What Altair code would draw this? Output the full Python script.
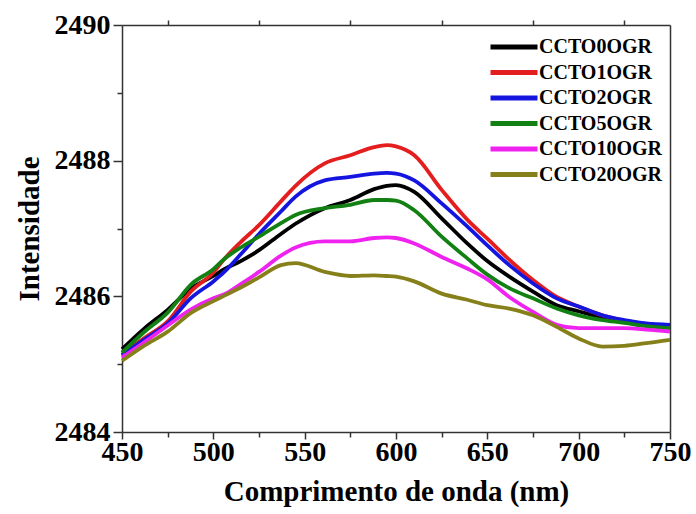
import altair as alt
import pandas as pd

# ---- data ----
wavelength = [450, 462, 475, 488, 500, 506, 515, 525, 537, 545, 561, 575, 588, 595,
              600, 610, 625, 639, 650, 662, 675, 688, 700, 713, 725, 737, 750]

ccto0 = [2485.22, 2485.52, 2485.80, 2486.12, 2486.30, 2486.40, 2486.52, 2486.68, 2486.92,
         2487.07, 2487.30, 2487.42, 2487.58, 2487.63, 2487.64, 2487.54, 2487.15, 2486.78,
         2486.52, 2486.29, 2486.07, 2485.87, 2485.78, 2485.69, 2485.64, 2485.59, 2485.56]
ccto1 = [2485.14, 2485.38, 2485.63, 2486.08, 2486.35, 2486.55, 2486.80, 2487.05, 2487.40,
         2487.63, 2487.96, 2488.08, 2488.20, 2488.23, 2488.21, 2488.08, 2487.57, 2487.13,
         2486.85, 2486.54, 2486.24, 2485.99, 2485.85, 2485.72, 2485.64, 2485.59, 2485.56]
ccto2 = [2485.13, 2485.36, 2485.60, 2485.98, 2486.22, 2486.36, 2486.62, 2486.92, 2487.25,
         2487.47, 2487.71, 2487.76, 2487.81, 2487.82, 2487.81, 2487.71, 2487.37, 2487.03,
         2486.75, 2486.46, 2486.19, 2485.97, 2485.85, 2485.72, 2485.65, 2485.60, 2485.58]
ccto5 = [2485.17, 2485.47, 2485.76, 2486.18, 2486.40, 2486.55, 2486.72, 2486.88, 2487.08,
         2487.20, 2487.30, 2487.35, 2487.42, 2487.42, 2487.41, 2487.27, 2486.88, 2486.56,
         2486.32, 2486.12, 2485.97, 2485.82, 2485.72, 2485.65, 2485.61, 2485.56, 2485.53]
ccto10 = [2485.10, 2485.32, 2485.57, 2485.81, 2485.97, 2486.03, 2486.18, 2486.36, 2486.60,
          2486.72, 2486.81, 2486.81, 2486.86, 2486.87, 2486.86, 2486.78, 2486.58, 2486.41,
          2486.25, 2485.99, 2485.77, 2485.58, 2485.53, 2485.53, 2485.53, 2485.51, 2485.48]
ccto20 = [2485.05, 2485.27, 2485.48, 2485.76, 2485.93, 2486.01, 2486.13, 2486.28, 2486.46,
          2486.49, 2486.36, 2486.30, 2486.31, 2486.30, 2486.29, 2486.22, 2486.04, 2485.95,
          2485.87, 2485.82, 2485.72, 2485.55, 2485.38, 2485.26, 2485.27, 2485.31, 2485.36]

series_names = ["CCTO0OGR", "CCTO1OGR", "CCTO2OGR", "CCTO5OGR", "CCTO10OGR", "CCTO20OGR"]
series_values = [ccto0, ccto1, ccto2, ccto5, ccto10, ccto20]
series_colors = ["#000000", "#e41e1e", "#1515e0", "#128012", "#f022f0", "#86801a"]

x_ticks = [450, 475, 500, 525, 550, 575, 600, 625, 650, 675, 700, 725, 750]
top_ticks = [475, 525, 575, 625, 675, 725]
y_ticks = [2484, 2485, 2486, 2487, 2488, 2489, 2490]

rows = []
for name, vals in zip(series_names, series_values):
    for w, v in zip(wavelength, vals):
        rows.append({"wl": w, "val": v, "serie": name})
df = pd.DataFrame(rows)

FONT = "Liberation Serif"
AX = "#333333"

xscale = alt.Scale(domain=[450, 750], nice=False, zero=False)
yscale = alt.Scale(domain=[2484, 2490], nice=False, zero=False)

lines = alt.Chart(df).mark_line(strokeWidth=3.8, interpolate="monotone").encode(
    x=alt.X("wl:Q", scale=xscale,
            axis=alt.Axis(title="Comprimento de onda (nm)", values=x_ticks,
                          labelExpr="datum.value % 50 === 0 ? datum.label : ''",
                          tickSize={"condition": {"test": "datum.value % 50 === 0", "value": 7}, "value": 5},
                          format="d", orient="bottom", labelFlush=False, labelPadding=-1,
                          titlePadding=11)),
    y=alt.Y("val:Q", scale=yscale,
            axis=alt.Axis(title="Intensidade", values=y_ticks,
                          labelExpr="datum.value % 2 === 0 ? datum.label : ''",
                          tickSize={"condition": {"test": "datum.value % 2 === 0", "value": 9}, "value": 5},
                          format="d", orient="left", labelFlush=False, titlePadding=10)),
    color=alt.Color("serie:N", sort=series_names,
                    scale=alt.Scale(domain=series_names, range=series_colors),
                    legend=alt.Legend(orient="none", legendX=368, legendY=12, title=None,
                                      symbolType="M-4.7,0H4.7", symbolSize=100,
                                      symbolStrokeWidth=5, symbolOffset=14, labelOffset=15,
                                      labelFont=FONT, labelFontWeight="bold", labelFontSize=20,
                                      labelColor="black", rowPadding=5.5, padding=0,
                                      labelLimit=300)),
    order=alt.Order("serie:N"),
)

frame = alt.Chart(df).mark_line(strokeOpacity=0).encode(
    x=alt.X("wl:Q", scale=xscale,
            axis=alt.Axis(title=None, values=top_ticks, labels=False, tickSize=5, orient="top")),
    y=alt.Y("val:Q", scale=yscale,
            axis=alt.Axis(title=None, ticks=False, labels=False, orient="right")),
)

chart = alt.layer(lines, frame).resolve_axis(x="independent", y="independent").properties(
    width=548, height=407,
    autosize=alt.AutoSizeParams(type="none"),
    padding={"left": 122, "top": 25, "right": 26, "bottom": 82},
).configure_view(stroke=None).configure_axis(
    grid=False, domainColor=AX, domainWidth=1.5, tickColor=AX, tickWidth=1.5,
    labelFont=FONT, labelFontWeight="bold", labelFontSize=28, labelColor="black",
    labelPadding=3, titleFont=FONT, titleFontWeight="bold", titleFontSize=29,
    titleColor="black",
)

chart.save("out.html", embed_options={"renderer": "svg", "actions": False})
